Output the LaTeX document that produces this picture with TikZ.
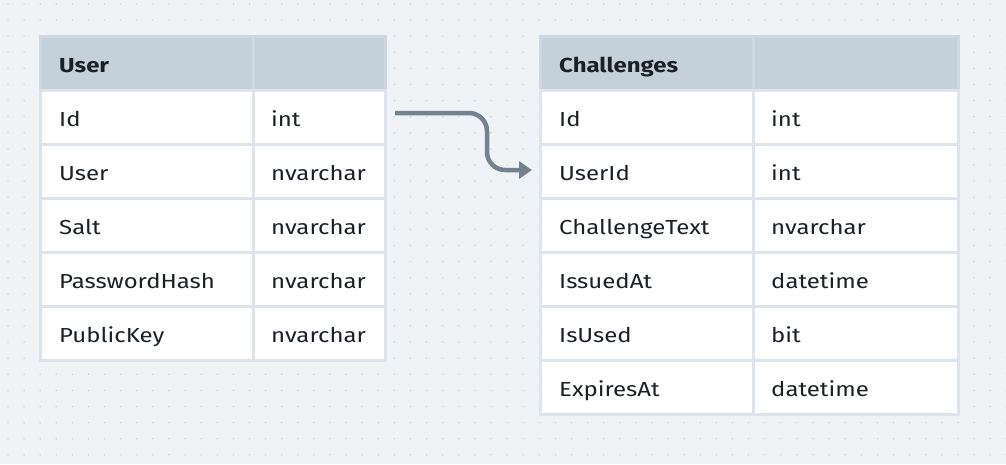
\documentclass[tikz,border=0pt]{standalone}
\usepackage{fontspec}
\setmainfont[FakeStretch=1.18]{Fira Sans}
\usetikzlibrary{arrows.meta}
\definecolor{bg}{HTML}{F0F3F6}
\definecolor{dotc}{HTML}{CAD2DA}
\definecolor{hdr}{HTML}{C5D1DA}
\definecolor{hdrline}{HTML}{CDD8E0}
\definecolor{cellline}{HTML}{DEE4EB}
\definecolor{txt}{HTML}{1B2026}
\definecolor{arr}{HTML}{738291}
\begin{document}
\begin{tikzpicture}[x=1pt,y=-1pt,
  cellbox/.style={draw=cellline, fill=white, line width=3pt, minimum height=54pt,
    inner sep=0pt, anchor=north west, outer sep=0pt},
  hdrbox/.style={cellbox, draw=hdrline, fill=hdr},
  lbl/.style={anchor=base west, inner sep=0pt, text=txt, font=\fontsize{20.3}{24}\selectfont},
  hlbl/.style={lbl, font=\fontsize{20.3}{24}\selectfont\bfseries},
  link/.style={draw=arr, line width=4.5pt, rounded corners=18pt,
    -{Triangle[length=13pt,width=17pt]}}]
\useasboundingbox (0,0) rectangle (1006,464);
\fill[bg] (0,0) rectangle (1006,464);
\foreach \i in {0,...,62}{
  \foreach \j in {0,...,28}{
    \fill[dotc] ({8+16.1*\i},{4+16.1*\j}) circle (0.85pt);
  }
}
% ---- User table
\node[hdrbox, minimum width=213pt] (uh1) at (40,36) {};
\node[hdrbox, minimum width=132pt] (uh2) at (253,36) {};
\node[hlbl] (uht) at ([xshift=19pt,yshift=-9pt]uh1.west) {User};
\foreach \a/\b [count=\i] in {Id/int, User/nvarchar, Salt/nvarchar, PasswordHash/nvarchar, PublicKey/nvarchar}{
  \node[cellbox, minimum width=213pt] (u\i a) at (40,{36+54*\i}) {};
  \node[cellbox, minimum width=132pt] (u\i b) at (253,{36+54*\i}) {};
  \node[lbl] (u\i at) at ([xshift=19pt,yshift=-9pt]u\i a.west) {\a};
  \node[lbl] (u\i bt) at ([xshift=18pt,yshift=-9pt]u\i b.west) {\b};
}
% ---- Challenges table
\node[hdrbox, minimum width=213pt] (ch1) at (540,36) {};
\node[hdrbox, minimum width=205pt] (ch2) at (753,36) {};
\node[hlbl] (cht) at ([xshift=19pt,yshift=-9pt]ch1.west) {Challenges};
\foreach \a/\b [count=\i] in {Id/int, UserId/int, ChallengeText/nvarchar, IssuedAt/datetime, IsUsed/bit, ExpiresAt/datetime}{
  \node[cellbox, minimum width=213pt] (c\i a) at (540,{36+54*\i}) {};
  \node[cellbox, minimum width=205pt] (c\i b) at (753,{36+54*\i}) {};
  \node[lbl] (c\i at) at ([xshift=19pt,yshift=-9pt]c\i a.west) {\a};
  \node[lbl] (c\i bt) at ([xshift=18pt,yshift=-9pt]c\i b.west) {\b};
}
% ---- relation
\coordinate (s) at ([xshift=10pt,yshift=4pt]u1b.east);
\coordinate (e) at ([xshift=-8pt,yshift=1pt]c2a.west);
\coordinate (bend) at (487,0);
\draw[link] (s) -- (s -| bend) -- (bend |- e) -- (e);
\end{tikzpicture}
\end{document}
